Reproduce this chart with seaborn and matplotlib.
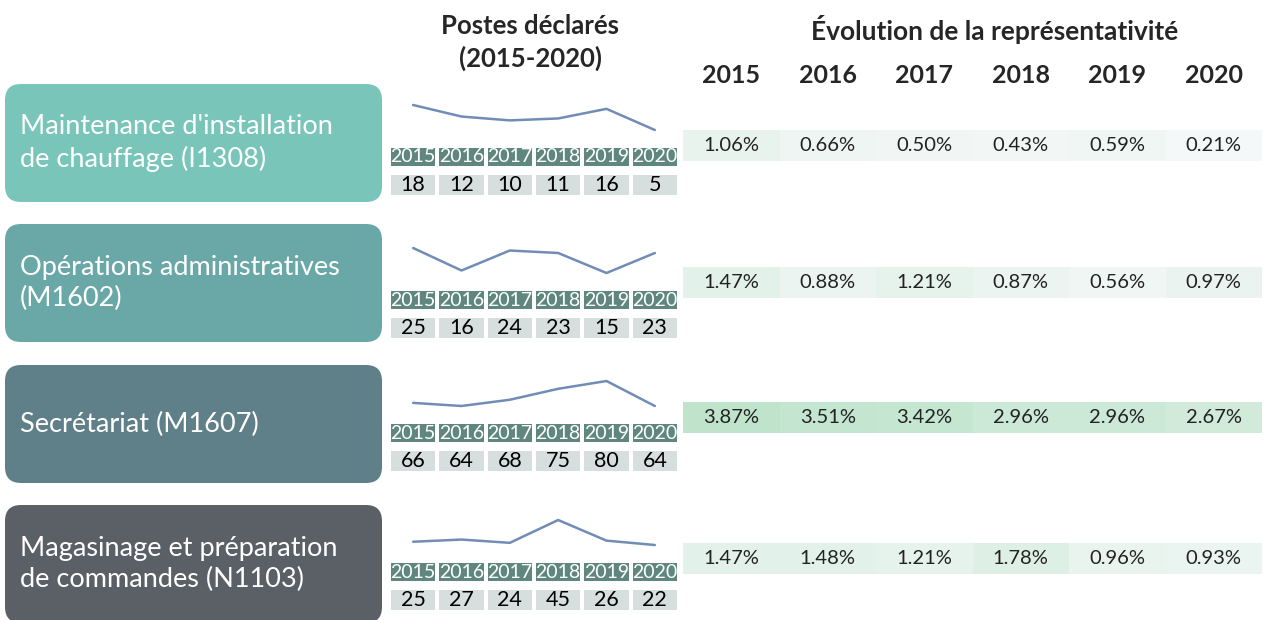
import numpy as np
import pandas as pd
import matplotlib
matplotlib.use("Agg")
import matplotlib.pyplot as plt
from matplotlib.colors import ListedColormap, LinearSegmentedColormap
from matplotlib.patches import FancyBboxPatch
import seaborn as sns

# --- data ---
years = [2015, 2016, 2017, 2018, 2019, 2020]
jobs = ["Maintenance d'installation\nde chauffage (I1308)",
        "Opérations administratives\n(M1602)",
        "Secrétariat (M1607)",
        "Magasinage et préparation\nde commandes (N1103)"]
box_colors = ["#79c5b9", "#69a8a7", "#5f7f89", "#5b6067"]

postes_i1308 = [18, 12, 10, 11, 16, 5]
postes_m1602 = [25, 16, 24, 23, 15, 23]
postes_m1607 = [66, 64, 68, 75, 80, 64]
postes_n1103 = [25, 27, 24, 45, 26, 22]

repr_i1308 = [1.06, 0.66, 0.50, 0.43, 0.59, 0.21]
repr_m1602 = [1.47, 0.88, 1.21, 0.87, 0.56, 0.97]
repr_m1607 = [3.87, 3.51, 3.42, 2.96, 2.96, 2.67]
repr_n1103 = [1.47, 1.48, 1.21, 1.78, 0.96, 0.93]

postes = [postes_i1308, postes_m1602, postes_m1607, postes_n1103]
repr_ = [repr_i1308, repr_m1602, repr_m1607, repr_n1103]

sns.set_theme(style="white")
plt.rcParams['font.family'] = ['Lato', 'DejaVu Sans']

W, H = 1273, 620
fig = plt.figure(figsize=(W / 100, H / 100), dpi=100)


def px_axes(x0, y0, x1, y1):
    return fig.add_axes([x0 / W, 1 - y1 / H, (x1 - x0) / W, (y1 - y0) / H])


# background layer for the boxes and titles
bg = fig.add_axes([0, 0, 1, 1])
bg.set_xlim(0, W)
bg.set_ylim(H, 0)
bg.axis("off")

bg.text(530, 26, "Postes déclarés", ha="center", va="center", fontsize=18.5, fontweight="bold")
bg.text(530, 58, "(2015-2020)", ha="center", va="center", fontsize=18.5, fontweight="bold")
bg.text(995, 29, "Évolution de la représentativité", ha="center", va="center",
        fontsize=19, fontweight="bold")

box_top = [84, 224, 365, 505]
cell_top = [146, 289, 422, 561]
pct_top = [130, 267, 402, 543]

pct_cmap = LinearSegmentedColormap.from_list("g", ["#f8f9fb", "#bfe3cb"])
vmax = max(max(r) for r in repr_)

for i in range(4):
    bt = box_top[i]
    bg.add_patch(FancyBboxPatch((5, bt), 377, 118, boxstyle="round,pad=0,rounding_size=16",
                                facecolor=box_colors[i], edgecolor="none"))
    bg.text(20, bt + 59, jobs[i], ha="left", va="center", color="white",
            fontsize=19.5, linespacing=1.3)

    # sparkline
    ct = cell_top[i]
    ax_l = px_axes(389, ct - 41, 679, ct - 16)
    df = pd.DataFrame({"x": range(6), "y": postes[i]})
    sns.lineplot(data=df, x="x", y="y", ax=ax_l, color="#5878aa", linewidth=1.8, alpha=0.85)
    ax_l.set_xlim(-0.5, 5.5)
    ax_l.set_ylim(min(postes[i]), max(postes[i]))
    for ln in ax_l.lines:
        ln.set_clip_on(False)
    ax_l.axis("off")

    # years row
    ax_y = px_axes(389, ct, 679, ct + 22)
    sns.heatmap(np.zeros((1, 6)), ax=ax_y, cmap=ListedColormap(["#5f877e"]), cbar=False,
                annot=np.array([[str(y) for y in years]]), fmt="", linewidths=1.5,
                linecolor="white", annot_kws={"color": "white", "fontsize": 14})
    ax_y.set_xticks([])
    ax_y.set_yticks([])

    # counts row
    ax_c = px_axes(389, ct + 27, 679, ct + 51)
    sns.heatmap(np.zeros((1, 6)), ax=ax_c, cmap=ListedColormap(["#d6dfdd"]), cbar=False,
                annot=np.array([postes[i]]), fmt="d", linewidths=1.5,
                linecolor="white", annot_kws={"color": "black", "fontsize": 15.5})
    ax_c.set_xticks([])
    ax_c.set_yticks([])

    # representativity row
    pt = pct_top[i]
    ax_p = px_axes(683, pt, 1262, pt + 31)
    sns.heatmap(np.array([repr_[i]]), ax=ax_p, cmap=pct_cmap, vmin=0, vmax=vmax, cbar=False,
                annot=np.array([[f"{v:.2f}%" for v in repr_[i]]]), fmt="",
                annot_kws={"color": "#222222", "fontsize": 14.5})
    ax_p.set_xticks([])
    ax_p.set_yticks([])
    if i == 0:
        ax_p.xaxis.set_ticks_position("top")
        ax_p.set_xticks(np.arange(6) + 0.5)
        ax_p.set_xticklabels(years, fontsize=18, fontweight="bold")
        ax_p.tick_params(axis="x", length=0, pad=31)

fig.savefig("out.png", dpi=100)
